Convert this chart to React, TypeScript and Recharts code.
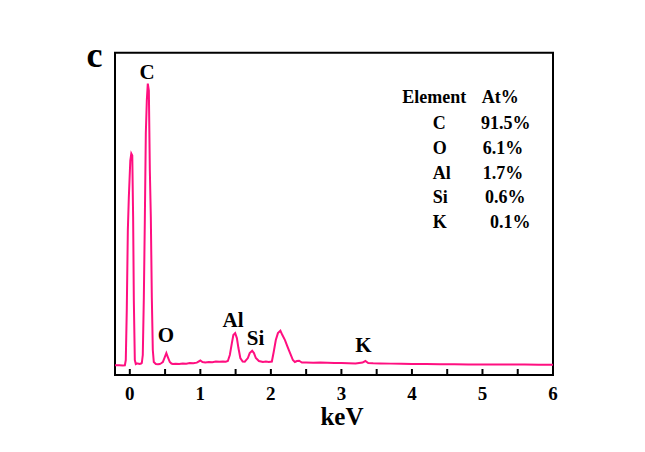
import React from "react";
import { LineChart, Line, XAxis, YAxis, ReferenceArea } from "recharts";

// EDS spectrum: energy (keV) and counts (arbitrary units)
const energy = [
  -0.21, -0.15, -0.1, -0.07, -0.057, -0.043, -0.028, -0.014, 0.007, 0.021, 0.035, 0.047, 0.057, 0.071, 0.085,
  0.1, 0.113, 0.14, 0.16, 0.17, 0.184, 0.199, 0.213, 0.227, 0.241, 0.255, 0.27, 0.284, 0.298, 0.312, 0.326,
  0.34, 0.369, 0.4, 0.425, 0.45, 0.468, 0.496, 0.518, 0.539, 0.567, 0.59, 0.61, 0.65, 0.7, 0.75, 0.8, 0.85,
  0.9, 0.95, 1.0, 1.03, 1.07, 1.12, 1.17, 1.22, 1.27, 1.32, 1.36, 1.39, 1.418, 1.447, 1.468, 1.494, 1.518,
  1.54, 1.567, 1.6, 1.63, 1.674, 1.7, 1.735, 1.76, 1.787, 1.83, 1.887, 1.93, 1.97, 2.014, 2.04, 2.07, 2.1,
  2.135, 2.163, 2.2, 2.227, 2.255, 2.284, 2.312, 2.34, 2.37, 2.4, 2.44, 2.5, 2.6, 2.7, 2.8, 2.9, 3.0, 3.1,
  3.2, 3.3, 3.34, 3.38, 3.45, 3.55, 3.7, 3.85, 4.0, 4.2, 4.4, 4.6, 4.8, 5.0, 5.2, 5.4, 5.6, 5.8, 6.0,
];
const counts = [
  97, 98, 96, 98, 150, 650, 1450, 1780, 2150, 2220, 2200, 1580, 750, 150, 110,
  115, 115, 110, 115, 120, 200, 780, 1550, 2420, 2750, 2920, 2850, 2050, 1580, 780, 250,
  130, 110, 108, 110, 120, 130, 180, 220, 180, 130, 115, 110, 113, 110, 116, 114, 120,
  117, 124, 145, 130, 126, 130, 128, 134, 132, 135, 134, 140, 200, 320, 400, 420, 370,
  270, 170, 135, 133, 170, 220, 243, 220, 170, 140, 130, 135, 130, 135, 230, 350, 420,
  443, 400, 350, 300, 250, 200, 150, 130, 140, 143, 125, 126, 123, 125, 122, 120, 121,
  118, 116, 125, 140, 120, 117, 115, 114, 112, 110, 109, 108, 108, 106, 105, 106, 104, 105, 103, 103,
];
const xTicks = [0, 0.5, 1, 1.5, 2, 2.5, 3, 3.5, 4, 4.5, 5, 5.5, 6];
const elements = ["C", "O", "Al", "Si", "K"];
const atPercent = ["91.5%", "6.1%", "1.7%", "0.6%", "0.1%"];
const peakLabels = ["C", "O", "Al", "Si", "K"];

const data = energy.map((e, i) => ({ e, c: counts[i] }));

const FONT = "'Liberation Serif', 'Times New Roman', serif";
const PINK = "#ff0f80";

const renderTick = (props: any) => {
  const { x, y, payload } = props;
  const v = payload.value;
  return (
    <g key={"t" + v}>
      <line x1={x} x2={x} y1={y} y2={y - 6} stroke="#000" strokeWidth={2} />
      {Number.isInteger(v) && (
        <text x={x} y={y + 25} textAnchor="middle" fontFamily={FONT} fontWeight="bold" fontSize={19} fill="#000">
          {v}
        </text>
      )}
    </g>
  );
};

const peakPos = [
  { x: 139, y: 71 },
  { x: 158, y: 334 },
  { x: 225, y: 319 },
  { x: 247.5, y: 337 },
  { x: 355.5, y: 344 },
];
const valueX = [473, 474.7, 474.7, 477, 482];
const rowY = [121.3, 146, 170.7, 195.3, 220.3];

export default function App() {
  return (
    <LineChart width={637} height={444} data={data} margin={{ top: 44.7, right: 92, bottom: 47, left: 107 }}>
      <XAxis
        dataKey="e"
        type="number"
        domain={[-0.21, 6]}
        allowDataOverflow
        ticks={xTicks}
        interval={0}
        tickSize={0}
        tickMargin={0}
        tickLine={false}
        axisLine={{ stroke: "#000", strokeWidth: 2 }}
        tick={renderTick}
        height={30}
      />
      <YAxis type="number" domain={[0, 3230]} allowDataOverflow hide width={0} />
      <ReferenceArea x1={-0.21} x2={6} y1={0} y2={3230} fill="none" stroke="#000" strokeWidth={2} fillOpacity={0} />
      <Line type="linear" dataKey="c" stroke={PINK} strokeWidth={2} dot={false} isAnimationActive={false} />
      <text x={86.5} y={59} textAnchor="middle" fontFamily={FONT} fontWeight="bold" fontSize={36} fill="#000">c</text>
      {peakLabels.map((l, i) => (
        <text key={"p" + i} x={peakPos[i].x} y={peakPos[i].y} textAnchor="middle" fontFamily={FONT} fontWeight="bold" fontSize={21} fill="#000">
          {l}
        </text>
      ))}
      <text x={394.3} y={95.3} fontFamily={FONT} fontWeight="bold" fontSize={18} fill="#000">Element</text>
      <text x={473.7} y={95.3} fontFamily={FONT} fontWeight="bold" fontSize={18} fill="#000">At%</text>
      {elements.map((el, i) => (
        <g key={"r" + i}>
          <text x={424.7} y={rowY[i]} fontFamily={FONT} fontWeight="bold" fontSize={18} fill="#000">{el}</text>
          <text x={valueX[i]} y={rowY[i]} fontFamily={FONT} fontWeight="bold" fontSize={18} fill="#000">{atPercent[i]}</text>
        </g>
      ))}
      <text x={334} y={417} textAnchor="middle" fontFamily={FONT} fontWeight="bold" fontSize={25} fill="#000">keV</text>
    </LineChart>
  );
}
